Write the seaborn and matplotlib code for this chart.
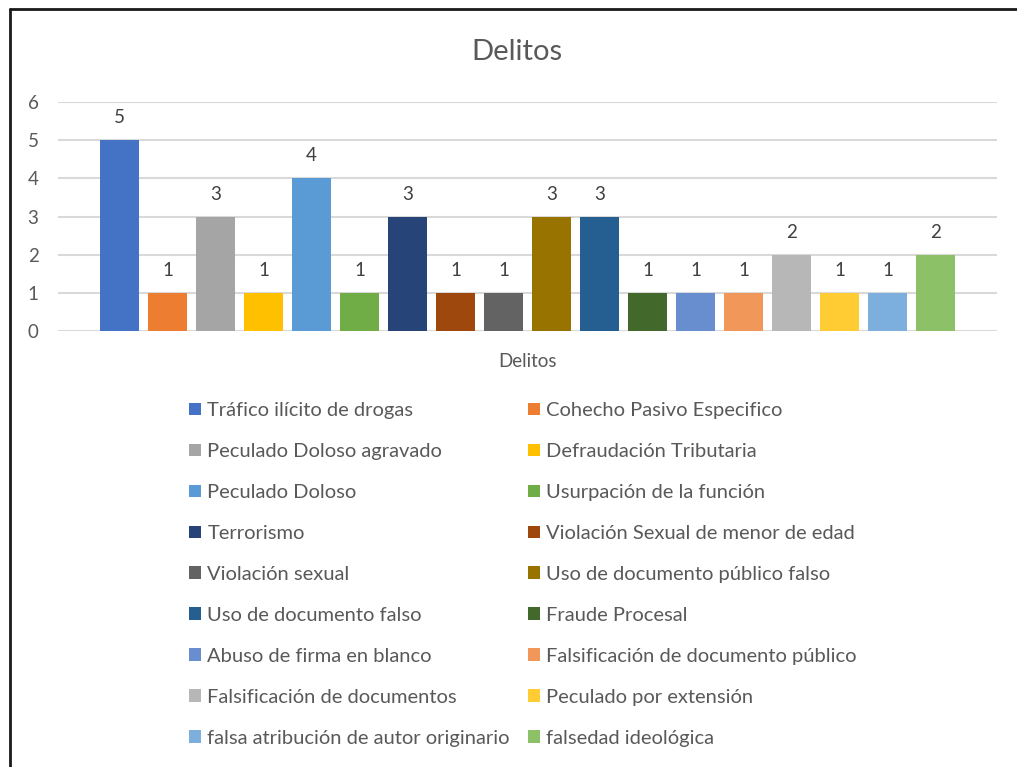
import seaborn as sns
import matplotlib.pyplot as plt
import pandas as pd
from matplotlib.lines import Line2D

delitos = [
    'Tráfico ilícito de drogas', 'Cohecho Pasivo Especifico',
    'Peculado Doloso agravado', 'Defraudación Tributaria',
    'Peculado Doloso', 'Usurpación de la función',
    'Terrorismo', 'Violación Sexual de menor de edad',
    'Violación sexual', 'Uso de documento público falso',
    'Uso de documento falso', 'Fraude Procesal',
    'Abuso de firma en blanco', 'Falsificación de documento público',
    'Falsificación de documentos', 'Peculado por extensión',
    'falsa atribución de autor originario', 'falsedad ideológica',
]
cantidades = [5, 1, 3, 1, 4, 1, 3, 1, 1, 3, 3, 1, 1, 1, 2, 1, 1, 2]
colores = [
    '#4472C4', '#ED7D31', '#A5A5A5', '#FFC000', '#5B9BD5', '#70AD47',
    '#264478', '#9E480E', '#636363', '#997300', '#255E91', '#43682B',
    '#698ED0', '#F1975A', '#B7B7B7', '#FFCD33', '#7CAFDD', '#8CC168',
]

df = pd.DataFrame({'grupo': 'Delitos', 'delito': delitos, 'cantidad': cantidades})

sns.set_theme(style='white')
plt.rcParams['font.family'] = ['Lato', 'DejaVu Sans']

fig = plt.figure(figsize=(10.17, 7.67), dpi=100)
ax = fig.add_axes([58 / 1017, 1 - 331 / 767, 939 / 1017, 229 / 767])

sns.barplot(data=df, x='grupo', y='cantidad', hue='delito',
            palette=colores, saturation=1, width=0.92, gap=0.2,
            dodge=True, linewidth=0, ax=ax)

for cont in ax.containers:
    ax.bar_label(cont, padding=10, fontsize=13.5, color='#404040')

ax.set_ylim(0, 6)
ax.set_xlim(-0.5, 0.5)
ax.set_yticks(range(7))
ax.grid(axis='y', color='#D9D9D9', linewidth=1.5)
ax.set_axisbelow(True)
sns.despine(ax=ax, left=True, bottom=True, top=True, right=True)
ax.tick_params(axis='both', length=0, labelsize=13.5, labelcolor='#595959')
ax.tick_params(axis='y', pad=14)
ax.tick_params(axis='x', pad=16)
ax.set_xlabel('')
ax.set_ylabel('')

fig.text(517 / 1017, 1 - 52 / 767, 'Delitos', ha='center', va='center',
         fontsize=21, color='#595959')

handles, labels = ax.get_legend_handles_labels()
ax.get_legend().remove()
orden = list(range(0, 18, 2)) + list(range(1, 18, 2))
fig.legend([handles[i] for i in orden], [labels[i] for i in orden],
           loc='upper center', bbox_to_anchor=(523 / 1017, 1 - 384 / 767),
           ncol=2, frameon=False, fontsize=14.5, labelcolor='#595959',
           handlelength=0.6, handleheight=0.6, handletextpad=0.3,
           columnspacing=0.9, labelspacing=1.19)

fig.add_artist(Line2D([10 / 1017, 1], [1 - 9 / 767, 1 - 9 / 767],
                      color='#1a1a1a', linewidth=2, transform=fig.transFigure))
fig.add_artist(Line2D([10 / 1017, 10 / 1017], [0, 1 - 9 / 767],
                      color='#1a1a1a', linewidth=2, transform=fig.transFigure))

plt.savefig('out.png', dpi=100)
